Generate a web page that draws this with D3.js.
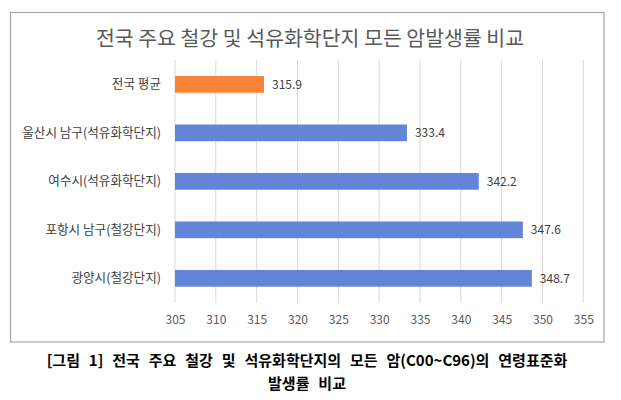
<!DOCTYPE html>
<html>
<head>
<meta charset="utf-8">
<script src="https://cdn.jsdelivr.net/npm/d3@7"></script>
<style>
  body { margin: 0; background: #fff; }
  svg text { font-family: "Noto Sans CJK KR", "Noto Sans", sans-serif; }
</style>
</head>
<body>
<div id="chart"></div>
<script>
var categories = [
    "전국 평균",
    "울산시 남구(석유화학단지)",
    "여수시(석유화학단지)",
    "포항시 남구(철강단지)",
    "광양시(철강단지)"];
var values = [315.9, 333.4, 342.2, 347.6, 348.7];
var ticks = [305, 310, 315, 320, 325, 330, 335, 340, 345, 350, 355];

var width = 621,
    height = 400;

var svg = d3.select("#chart").append("svg")
    .attr("width", width)
    .attr("height", height);

// chart frame
svg.append("rect")
    .attr("x", 10.5).attr("y", 12.5)
    .attr("width", 593.5).attr("height", 329.5)
    .attr("fill", "#fff")
    .attr("stroke", "#a6a6a6")
    .attr("stroke-width", 1.2);

svg.append("text")
    .attr("x", 310).attr("y", 46)
    .attr("text-anchor", "middle")
    .attr("font-size", "20.5px")
    .attr("fill", "#595959")
    .text("전국 주요 철강 및 석유화학단지 모든 암발생률 비교");

var x = d3.scaleLinear()
    .domain([305, 355])
    .range([175, 583.3]);

var y = d3.scaleBand()
    .domain(categories)
    .range([60, 302.7])
    .paddingInner(0.655)
    .paddingOuter(0.33);

// gridlines
svg.append("g")
    .selectAll("line")
    .data(ticks)
    .enter().append("line")
    .attr("x1", function(d) { return x(d); })
    .attr("x2", function(d) { return x(d); })
    .attr("y1", 60).attr("y2", 302.7)
    .attr("stroke", "#d9d9d9")
    .attr("stroke-width", 1);

// x axis labels
var xAxis = d3.axisBottom(x)
    .tickValues(ticks)
    .tickSize(0)
    .tickPadding(0);

var gx = svg.append("g")
    .attr("transform", "translate(0,315)")
    .call(xAxis);
gx.select(".domain").remove();
gx.selectAll("text")
    .attr("font-family", "Noto Sans CJK KR, Noto Sans, sans-serif")
    .attr("font-size", "12px")
    .attr("fill", "#595959");

// y axis labels
var yAxis = d3.axisLeft(y)
    .tickSize(0)
    .tickPadding(0);

var gy = svg.append("g")
    .attr("transform", "translate(161,0)")
    .call(yAxis);
gy.select(".domain").remove();
gy.selectAll("text")
    .attr("font-family", "Noto Sans CJK KR, Noto Sans, sans-serif")
    .attr("font-size", "12.6px")
    .attr("fill", "#404040");

var data = categories.map(function(c, i) { return { name: c, value: values[i] }; });

svg.append("g")
    .selectAll("rect")
    .data(data)
    .enter().append("rect")
    .attr("x", x(305))
    .attr("y", function(d) { return y(d.name); })
    .attr("width", function(d) { return x(d.value) - x(305); })
    .attr("height", y.bandwidth())
    .attr("fill", function(d, i) { return i === 0 ? "#f8843a" : "#6384d7"; });

svg.append("g")
    .selectAll("text")
    .data(data)
    .enter().append("text")
    .attr("x", function(d) { return x(d.value) + 8; })
    .attr("y", function(d) { return y(d.name) + y.bandwidth() / 2; })
    .attr("dy", "0.35em")
    .attr("font-size", "12px")
    .attr("fill", "#404040")
    .text(function(d) { return d.value.toFixed(1); });

// caption below the chart
svg.append("text")
    .attr("x", 307).attr("y", 366)
    .attr("text-anchor", "middle")
    .attr("font-size", "15px")
    .attr("font-weight", "bold")
    .attr("fill", "#000")
    .attr("word-spacing", "5.5px")
    .text("[그림 1] 전국 주요 철강 및 석유화학단지의 모든 암(C00~C96)의 연령표준화");
svg.append("text")
    .attr("x", 307).attr("y", 389)
    .attr("text-anchor", "middle")
    .attr("font-size", "15px")
    .attr("font-weight", "bold")
    .attr("fill", "#000")
    .attr("word-spacing", "5.5px")
    .text("발생률 비교");
</script>
</body>
</html>
